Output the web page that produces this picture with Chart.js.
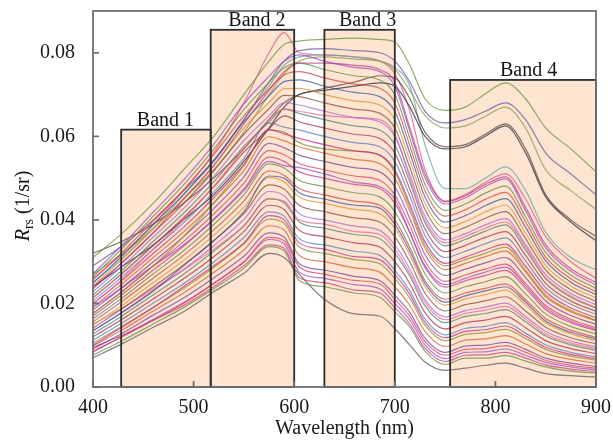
<!DOCTYPE html>
<html>
<head>
<meta charset="utf-8">
<script src="https://cdn.jsdelivr.net/npm/chart.js@4.4.0/dist/chart.umd.min.js"></script>
<style>
  html, body { margin: 0; padding: 0; background: #fff; }
</style>
</head>
<body>
<canvas id="myChart" width="613" height="441"></canvas>
<script>
var wl = [400, 430, 460, 490, 520, 550, 575, 590, 605, 630, 660, 685, 700, 715, 730, 750, 770, 790, 810, 830, 850, 875, 900];

// upper curves
var topGreen = [.031, .037, .044, .052, .060, .070, .078, .082, .0828, .0832, .0835, .0832, .0826, .077, .069, .0662, .067, .0702, .0728, .069, .062, .057, .0515];
var topPurple = [.029, .034, .040, .047, .054, .064, .073, .078, .0805, .081, .0805, .080, .078, .073, .066, .0632, .064, .066, .068, .064, .056, .051, .046];
var topOlive = [.027, .032, .038, .045, .052, .061, .070, .075, .078, .079, .0785, .078, .076, .071, .065, .062, .0625, .0648, .067, .062, .052, .047, .0425];
var topBrown = [.032, .035, .039, .044, .050, .057, .064, .068, .070, .0715, .073, .0745, .074, .069, .061, .0575, .058, .0605, .063, .057, .046, .040, .036];
var topNavy = [.024, .029, .034, .040, .046, .054, .062, .067, .070, .071, .072, .0728, .072, .067, .060, .057, .0575, .060, .0625, .056, .0455, .0395, .035];
var tealCurve = [.025, .031, .038, .046, .054, .064, .072, .077, .079, .0795, .079, .078, .0765, .072, .058, .0475, .0475, .050, .0527, .047, .037, .031, .028];
var pinkCurve = [.026, .032, .039, .047, .056, .068, .080, .0848, .080, .0795, .079, .078, .075, .066, .052, .0445, .046, .049, .051, .045, .036, .030, .026];

// main bundle, top to bottom
var mid78 = [.0271, .0342, .0419, .0495, .0581, .0678, .0744, .078, .0795, .078, .0765, .0755, .072, .0612, .0501, .0438, .0453, .048, .0498, .0422, .0333, .0277, .0244];
var mid76 = [.0264, .0334, .0409, .0484, .0569, .0664, .0729, .0764, .0775, .076, .0745, .0735, .070, .0595, .0485, .0423, .0438, .0464, .0481, .0407, .0322, .0268, .0236];
var mid74 = [.0256, .0325, .0398, .0472, .0556, .0649, .0713, .0747, .0755, .074, .0725, .0715, .068, .0577, .047, .0409, .0424, .0449, .0466, .0395, .0311, .0259, .0228];
var mid72 = [.0249, .0316, .0389, .0461, .0543, .0635, .0697, .0731, .0735, .072, .0705, .0695, .066, .056, .0455, .0395, .041, .0434, .0451, .0382, .0302, .0251, .0221];
var mid70 = [.0242, .0308, .0379, .045, .053, .062, .0681, .0714, .0715, .070, .0685, .0675, .064, .0543, .044, .0381, .0396, .0419, .0435, .0368, .0291, .0242, .0213];
var mid68 = [.0235, .030, .0369, .0439, .0517, .0605, .0666, .0698, .0695, .068, .0665, .0655, .062, .0525, .0425, .0367, .0382, .0404, .042, .0355, .028, .0233, .0205];
var mid66 = [.0228, .0291, .0359, .0427, .0504, .059, .0649, .0681, .0675, .066, .0645, .0635, .060, .0508, .0409, .0352, .0367, .0388, .0403, .0341, .0269, .0224, .0197];
var mid64 = [.022, .0282, .0349, .0416, .0491, .0576, .0634, .0665, .0655, .064, .0625, .0615, .058, .049, .0393, .0338, .0353, .0373, .0388, .0328, .0259, .0215, .0189];
var mid62 = [.0213, .0274, .0339, .0405, .0479, .0562, .0618, .0649, .0635, .062, .0605, .0595, .056, .0473, .0378, .0324, .0339, .0358, .0372, .0315, .0248, .0206, .0181];
var mid60 = [.0206, .0266, .033, .0393, .0466, .0547, .0632, .0622, .0615, .060, .0585, .0575, .054, .0456, .0363, .031, .0325, .0343, .0357, .0302, .0238, .0198, .0174];
var mid58 = [.0199, .0257, .032, .0382, .0453, .0533, .0616, .0606, .0595, .058, .0565, .0555, .052, .0438, .0348, .0296, .0311, .0328, .0342, .0289, .0228, .0189, .0166];
var mid56 = [.0192, .0249, .031, .0371, .044, .0518, .0599, .0589, .0575, .056, .0545, .0535, .050, .0421, .0332, .0281, .0296, .0312, .0325, .0275, .0216, .018, .0158];
var mid54 = [.0184, .024, .030, .036, .0427, .0503, .0583, .0573, .0555, .054, .0525, .0515, .048, .0403, .0317, .0267, .0282, .0297, .031, .0262, .0206, .0171, .015];
var mid52 = [.0177, .0231, .029, .0348, .0414, .0488, .0566, .0556, .0535, .052, .0505, .0495, .046, .0386, .0301, .0253, .0268, .0282, .0294, .0248, .0195, .0162, .0142];
var mid50 = [.017, .0223, .028, .0337, .0402, .0474, .055, .054, .0515, .050, .0485, .0475, .044, .0369, .0286, .0239, .0254, .0267, .0279, .0236, .0185, .0154, .0135];
var mid48 = [.0163, .0215, .0271, .0326, .0389, .046, .0534, .0524, .0495, .048, .0465, .0455, .042, .0352, .0271, .0225, .024, .0252, .0264, .0223, .0175, .0145, .0127];
var mid46 = [.0156, .0207, .0261, .0315, .0376, .0445, .0517, .0507, .0475, .046, .0445, .0435, .040, .0334, .0255, .021, .0225, .0236, .0247, .0209, .0164, .0136, .0119];
var mid44 = [.0148, .0197, .025, .0303, .0363, .043, .0501, .0491, .0455, .044, .0425, .0415, .038, .0316, .024, .0196, .0211, .0221, .0232, .0196, .0153, .0127, .0111];
var mid42 = [.0141, .0189, .024, .0292, .035, .0415, .0484, .0474, .0435, .042, .0405, .0395, .036, .0299, .0225, .0182, .0197, .0206, .0216, .0182, .0143, .0118, .0103];
var mid40 = [.0134, .0181, .0231, .0281, .0338, .0401, .0468, .0458, .0415, .040, .0385, .0375, .034, .0282, .0209, .0168, .0183, .0191, .0201, .0169, .0133, .011, .0096];
var mid38 = [.0127, .0172, .0221, .027, .0325, .0386, .0451, .0441, .0395, .038, .0365, .0355, .032, .0265, .0194, .0154, .0169, .0176, .0185, .0156, .0122, .0101, .0088];
var mid36 = [.012, .0164, .0211, .0259, .0312, .0372, .0435, .0425, .0375, .036, .0345, .0335, .030, .0247, .0178, .0139, .0154, .016, .0169, .0142, .0111, .0092, .008];
var mid34 = [.0112, .0155, .0201, .0247, .0299, .0358, .0419, .0409, .0355, .034, .0325, .0315, .028, .023, .0163, .0125, .014, .0145, .0154, .0129, .0101, .0083, .0072];
var mid32 = [.0105, .0147, .0191, .0236, .0286, .0343, .0402, .0392, .0335, .032, .0305, .0295, .026, .0212, .0148, .0111, .0126, .013, .0138, .0116, .009, .0074, .0064];
var mid30 = [.0098, .0138, .0182, .0225, .0274, .0328, .0386, .0376, .0315, .030, .0285, .0275, .024, .0195, .0133, .0097, .0112, .0115, .0123, .0103, .008, .0066, .0057];
var mid28 = [.0091, .013, .0172, .0213, .0261, .0313, .0369, .0359, .0295, .028, .0265, .0255, .022, .0178, .0117, .0083, .0098, .010, .0107, .009, .0069, .0057, .0049];
var mid26 = [.0084, .0122, .0162, .0202, .0248, .0299, .0353, .0343, .0275, .026, .0245, .0235, .020, .016, .0101, .0068, .0083, .0084, .0091, .0076, .0059, .0048, .0041];
var mid24 = [.0076, .0112, .0151, .019, .0235, .0284, .0336, .0326, .0255, .024, .0225, .0215, .018, .0143, .0086, .0054, .0069, .0069, .0075, .0062, .0048, .0038, .0033];
var mid22 = [.007, .0105, .0143, .018, .0228, .0272, .032, .031, .027, .021, .0175, .017, .014, .010, .006, .004, .0045, .0052, .0057, .0045, .0032, .0027, .0024];

// a few curves that cross the others
var alt775 = [.024, .030, .037, .045, .053, .063, .071, .0755, .0775, .0775, .077, .076, .073, .062, .051, .0443, .0458, .0485, .0503, .043, .034, .0283, .025];
var alt65 = [.020, .026, .033, .040, .048, .057, .064, .0665, .066, .065, .0645, .064, .0605, .050, .040, .0345, .036, .038, .0395, .0335, .0262, .0218, .019];
var alt57 = [.0175, .023, .029, .036, .044, .053, .0615, .061, .0585, .057, .0565, .0555, .0515, .043, .034, .029, .0305, .032, .0335, .028, .022, .0183, .016];
var alt51 = [.019, .024, .029, .034, .040, .047, .054, .053, .0525, .051, .049, .048, .045, .037, .029, .0245, .026, .0275, .0287, .0242, .019, .0158, .0138];
var alt45 = [.0135, .018, .023, .029, .035, .042, .0505, .050, .0465, .045, .0435, .0428, .039, .0325, .0248, .0203, .0218, .023, .024, .0203, .0158, .0131, .0115];
var alt39 = [.015, .019, .0235, .028, .033, .0385, .045, .0445, .040, .039, .0372, .0365, .033, .0272, .0202, .0161, .0176, .0184, .0193, .0163, .0127, .0105, .0092];
var alt33 = [.010, .0145, .019, .024, .029, .0345, .041, .040, .0345, .033, .0312, .0305, .027, .0221, .0155, .0118, .0133, .0137, .0146, .0122, .0095, .0078, .0068];
var alt27 = [.0085, .0122, .016, .020, .0248, .030, .0358, .035, .0288, .027, .0255, .0247, .021, .0169, .0109, .0076, .009, .0092, .0099, .0083, .0064, .0052, .0045];
var alt25 = [.0095, .0125, .016, .0195, .024, .029, .034, .0332, .0262, .025, .0232, .0225, .019, .015, .0093, .0061, .0076, .0077, .0083, .0069, .0053, .0043, .0037];

var bandNames = ["Band 1", "Band 2", "Band 3", "Band 4"];
var bandFrom = [428, 517, 630, 755];
var bandTo = [517, 600, 700, 900];
var bandTop = [0.0616, 0.0855, 0.0855, 0.0735];
var bandLabelAt = [472, 563, 673, 833];

var xTicks = [400, 500, 600, 700, 800, 900];
var yTicks = [0, 0.02, 0.04, 0.06, 0.08];

var topCurves = [topGreen, topPurple, topOlive, topBrown, topNavy, tealCurve, pinkCurve];
var topColors = ["#6f9a45", "#6e5f9e", "#8e9c55", "#6b4638", "#34364f", "#6fa9a5", "#e0608e"];
var midCurves = [mid78, alt775, mid76, mid74, mid72, mid70, mid68, mid66, alt65, mid64, mid62, mid60, mid58, alt57, mid56, mid54,
  mid52, alt51, mid50, mid48, mid46, alt45, mid44, mid42, mid40, alt39, mid38, mid36, mid34, alt33, mid32, mid30, mid28,
  alt27, mid26, alt25, mid24, mid22];
var midColors = ["#9b45c4", "#c23a7c", "#5f8a3c", "#d2403f", "#3f4f94", "#e0902e", "#8a4a36", "#b05fd0", "#e8648e", "#4f7f6f",
  "#a52a4a", "#5a78b8", "#c8287f", "#8b8b2a", "#d85a2a", "#7a3f9a", "#e23a5a"];

var fontName = "'Liberation Serif', 'Times New Roman', serif";

var datasets = [];
midCurves.forEach(function(c, i) {
  datasets.push({
    data: c.map(function(v, j) { return { x: wl[j], y: v }; }),
    borderColor: midColors[i % midColors.length] + "bb",
    borderWidth: 1.2
  });
});
datasets[datasets.length - 1].borderColor = "#6a6060cc";
topCurves.forEach(function(c, i) {
  datasets.push({
    data: c.map(function(v, j) { return { x: wl[j], y: v }; }),
    borderColor: topColors[i] + "cc",
    borderWidth: 1.2
  });
});

var bandPlugin = {
  id: "bands",
  beforeDatasetsDraw: function(chart) {
    var ctx = chart.ctx, x = chart.scales.x, y = chart.scales.y;
    ctx.save();
    ctx.fillStyle = "#fde5d1";
    for (var i = 0; i < bandNames.length; i++) {
      var x0 = x.getPixelForValue(bandFrom[i]), x1 = x.getPixelForValue(bandTo[i]);
      var yt = y.getPixelForValue(bandTop[i]), yb = y.getPixelForValue(0);
      ctx.fillRect(x0, yt, x1 - x0, yb - yt);
    }
    ctx.restore();
  },
  afterDatasetsDraw: function(chart) {
    var ctx = chart.ctx, x = chart.scales.x, y = chart.scales.y, a = chart.chartArea;
    ctx.save();
    // band outlines + names
    ctx.strokeStyle = "#2e2e2e";
    ctx.lineWidth = 1.8;
    ctx.fillStyle = "#151515";
    ctx.font = "20px " + fontName;
    ctx.textAlign = "center";
    ctx.textBaseline = "alphabetic";
    for (var i = 0; i < bandNames.length; i++) {
      var x0 = x.getPixelForValue(bandFrom[i]), x1 = x.getPixelForValue(bandTo[i]);
      var yt = y.getPixelForValue(bandTop[i]), yb = y.getPixelForValue(0);
      ctx.strokeRect(x0, yt, x1 - x0, yb - yt);
      ctx.fillText(bandNames[i], x.getPixelForValue(bandLabelAt[i]), yt - 4);
    }
    // frame
    ctx.strokeStyle = "#707070";
    ctx.lineWidth = 1.8;
    ctx.strokeRect(a.left, a.top, a.right - a.left, a.bottom - a.top);
    // inward ticks
    ctx.beginPath();
    yTicks.forEach(function(v) {
      var py = y.getPixelForValue(v);
      ctx.moveTo(a.left, py);
      ctx.lineTo(a.left + 6, py);
    });
    xTicks.forEach(function(v) {
      var px = x.getPixelForValue(v);
      ctx.moveTo(px, a.bottom);
      ctx.lineTo(px, a.bottom - 6);
    });
    ctx.stroke();
    ctx.restore();
  },
  afterDraw: function(chart) {
    // y title: R_rs (1/sr)
    var ctx = chart.ctx;
    ctx.save();
    ctx.translate(29, 206);
    ctx.rotate(-Math.PI / 2);
    ctx.fillStyle = "#151515";
    ctx.textBaseline = "alphabetic";
    ctx.textAlign = "left";
    ctx.font = "italic 20px " + fontName;
    var w1 = ctx.measureText("R").width;
    ctx.font = "14px " + fontName;
    var w2 = ctx.measureText("rs").width;
    ctx.font = "20px " + fontName;
    var w3 = ctx.measureText(" (1/sr)").width;
    var sx = -(w1 + w2 + w3) / 2;
    ctx.font = "italic 20px " + fontName;
    ctx.fillText("R", sx, 0);
    ctx.font = "14px " + fontName;
    ctx.fillText("rs", sx + w1, 4);
    ctx.font = "20px " + fontName;
    ctx.fillText(" (1/sr)", sx + w1 + w2, 0);
    ctx.restore();
  }
};

var ctx = document.getElementById("myChart").getContext("2d");
var myChart = new Chart(ctx, {
  type: "line",
  data: { datasets: datasets },
  plugins: [bandPlugin],
  options: {
    responsive: false,
    animation: false,
    layout: { autoPadding: false, padding: { top: 11, right: 17, left: 0, bottom: 0 } },
    elements: {
      point: { radius: 0, hoverRadius: 0, hitRadius: 0 },
      line: { cubicInterpolationMode: "monotone", fill: false }
    },
    plugins: { legend: { display: false }, tooltip: { enabled: false } },
    scales: {
      x: {
        type: "linear",
        min: 400,
        max: 900,
        grid: { display: false },
        border: { display: false },
        afterBuildTicks: function(s) { s.ticks = xTicks.map(function(v) { return { value: v }; }); },
        afterFit: function(s) { s.height = 54; s.paddingLeft = 0; s.paddingRight = 0; },
        ticks: { color: "#1a1a1a", font: { family: fontName, size: 20 }, padding: 1, maxRotation: 0 },
        title: { display: true, text: "Wavelength (nm)", color: "#1a1a1a", font: { family: fontName, size: 20 }, padding: { top: 2, bottom: 0 } }
      },
      y: {
        min: 0,
        max: 0.09,
        grid: { display: false },
        border: { display: false },
        afterBuildTicks: function(s) { s.ticks = yTicks.map(function(v) { return { value: v }; }); },
        afterFit: function(s) { s.width = 93; s.paddingTop = 0; s.paddingBottom = 0; },
        ticks: {
          color: "#1a1a1a",
          font: { family: fontName, size: 20 },
          padding: 10,
          callback: function(v) { return v.toFixed(2); }
        }
      }
    }
  }
});
</script>
</body>
</html>
